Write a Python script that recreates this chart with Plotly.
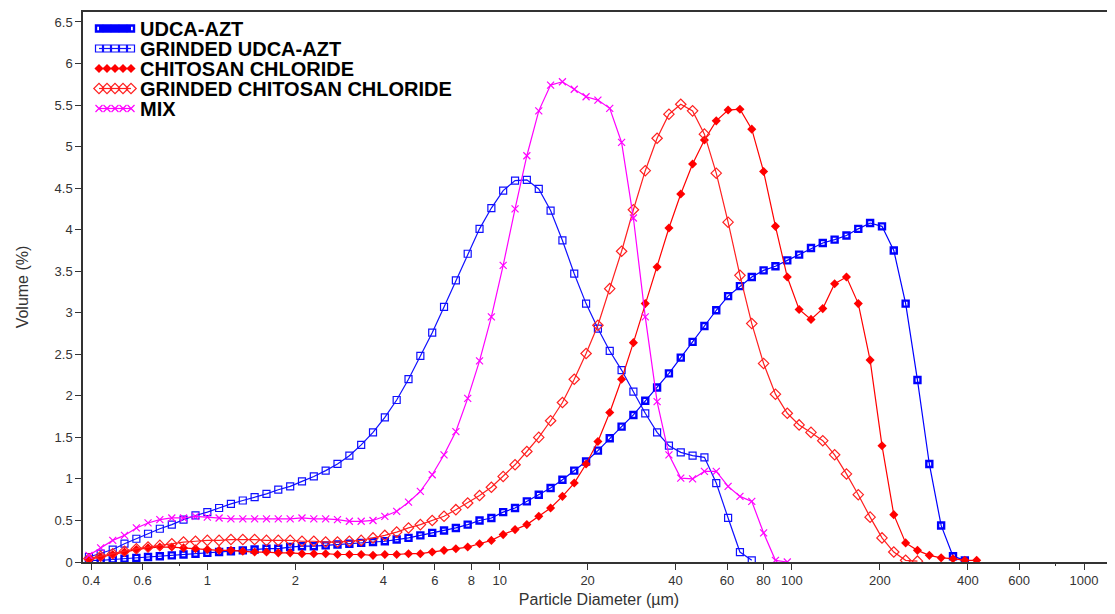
import plotly.graph_objects as go

# Particle diameter (µm) – channel centres
diameter = [0.393, 0.431, 0.474, 0.520, 0.571, 0.626, 0.687, 0.755, 0.828, 0.910,
            0.999, 1.096, 1.203, 1.321, 1.450, 1.592, 1.747, 1.919, 2.106, 2.312,
            2.538, 2.786, 3.059, 3.358, 3.686, 4.046, 4.442, 4.876, 5.353, 5.877,
            6.451, 7.082, 7.774, 8.534, 9.368, 10.28, 11.29, 12.39, 13.61, 14.94,
            16.40, 18.00, 19.76, 21.69, 23.81, 26.14, 28.69, 31.50, 34.58, 37.96,
            41.67, 45.74, 50.21, 55.12, 60.51, 66.43, 72.92, 80.05, 87.88, 96.47,
            105.9, 116.3, 127.6, 140.1, 153.8, 168.8, 185.3, 203.5, 223.3, 245.2,
            269.1, 295.5, 324.3, 356.1, 390.9, 429.1, 471.0]

udca_azt = [0.02, 0.02, 0.03, 0.04, 0.05, 0.06, 0.07, 0.08, 0.09, 0.10,
            0.11, 0.12, 0.13, 0.14, 0.15, 0.16, 0.16, 0.18, 0.19, 0.19,
            0.20, 0.21, 0.22, 0.23, 0.24, 0.25, 0.27, 0.29, 0.32, 0.35,
            0.38, 0.41, 0.45, 0.50, 0.53, 0.60, 0.65, 0.73, 0.81, 0.89,
            0.99, 1.10, 1.21, 1.34, 1.49, 1.63, 1.77, 1.94, 2.10, 2.27,
            2.46, 2.65, 2.84, 3.03, 3.20, 3.32, 3.43, 3.51, 3.56, 3.63,
            3.70, 3.78, 3.84, 3.88, 3.93, 4.01, 4.08, 4.04, 3.75, 3.11,
            2.19, 1.18, 0.44, 0.07, 0.02]

grinded_udca_azt = [0.06, 0.10, 0.15, 0.22, 0.28, 0.34, 0.40, 0.45, 0.51, 0.56,
                    0.60, 0.65, 0.70, 0.74, 0.78, 0.82, 0.87, 0.91, 0.97, 1.03,
                    1.10, 1.18, 1.28, 1.41, 1.56, 1.74, 1.95, 2.20, 2.48, 2.76,
                    3.07, 3.39, 3.71, 4.01, 4.26, 4.47, 4.59, 4.60, 4.49, 4.23,
                    3.87, 3.47, 3.11, 2.81, 2.54, 2.31, 2.05, 1.79, 1.56, 1.40,
                    1.32, 1.28, 1.26, 0.95, 0.53, 0.12, 0.02]

chitosan_chloride = [0.03, 0.06, 0.09, 0.12, 0.15, 0.17, 0.18, 0.18, 0.17, 0.16,
                     0.15, 0.14, 0.14, 0.13, 0.12, 0.12, 0.11, 0.11, 0.10, 0.10,
                     0.10, 0.09, 0.09, 0.09, 0.08, 0.09, 0.09, 0.10, 0.10, 0.12,
                     0.14, 0.16, 0.18, 0.22, 0.26, 0.33, 0.39, 0.45, 0.55, 0.65,
                     0.79, 0.95, 1.18, 1.45, 1.80, 2.20, 2.64, 3.11, 3.55, 4.02,
                     4.43, 4.79, 5.08, 5.31, 5.44, 5.45, 5.21, 4.70, 4.04, 3.43,
                     3.04, 2.92, 3.05, 3.35, 3.43, 3.11, 2.43, 1.40, 0.57, 0.23,
                     0.14, 0.08, 0.05, 0.04, 0.02, 0.02]

grinded_chitosan = [0.04, 0.07, 0.10, 0.13, 0.16, 0.18, 0.20, 0.22, 0.24, 0.25,
                    0.26, 0.26, 0.27, 0.27, 0.27, 0.26, 0.26, 0.26, 0.25, 0.25,
                    0.24, 0.24, 0.25, 0.26, 0.29, 0.32, 0.36, 0.41, 0.45, 0.50,
                    0.55, 0.63, 0.71, 0.80, 0.90, 1.03, 1.17, 1.33, 1.50, 1.70,
                    1.92, 2.20, 2.51, 2.85, 3.29, 3.74, 4.24, 4.71, 5.10, 5.39,
                    5.51, 5.43, 5.15, 4.68, 4.09, 3.45, 2.87, 2.39, 2.02, 1.79,
                    1.65, 1.56, 1.46, 1.29, 1.06, 0.81, 0.54, 0.29, 0.12, 0.02,
                    0.01]

mix = [0.08, 0.17, 0.26, 0.32, 0.41, 0.47, 0.51, 0.53, 0.53, 0.55,
       0.54, 0.53, 0.52, 0.52, 0.52, 0.52, 0.52, 0.52, 0.53, 0.52,
       0.52, 0.51, 0.49, 0.49, 0.50, 0.55, 0.61, 0.72, 0.85, 1.05,
       1.29, 1.57, 1.97, 2.42, 2.95, 3.57, 4.25, 4.89, 5.43, 5.74,
       5.78, 5.69, 5.60, 5.56, 5.46, 5.05, 4.14, 2.95, 1.93, 1.29,
       1.01, 1.00, 1.09, 1.09, 0.91, 0.79, 0.73, 0.35, 0.02, 0.00]

x_tickvals = [0.4, 0.6, 1, 2, 4, 6, 8, 10, 20, 40, 60, 80, 100, 200, 400, 600, 1000]
x_ticktext = ["0.4", "0.6", "1", "2", "4", "6", "8", "10", "20", "40", "60", "80",
              "100", "200", "400", "600", "1000"]
x_minor = [0.8, 800]
y_tickvals = [0, 0.5, 1, 1.5, 2, 2.5, 3, 3.5, 4, 4.5, 5, 5.5, 6, 6.5]
y_ticktext = ["0", "0.5", "1", "1.5", "2", "2.5", "3", "3.5", "4", "4.5", "5", "5.5", "6", "6.5"]

series = [
    ("UDCA-AZT", udca_azt, "#0000FF", dict(symbol="square-open", size=6, line=dict(width=2.4, color="#0000FF"))),
    ("GRINDED UDCA-AZT", grinded_udca_azt, "#1010FF", dict(symbol="square-open", size=7, line=dict(width=1.2, color="#1010FF"))),
    ("CHITOSAN CHLORIDE", chitosan_chloride, "#FF0000", dict(symbol="diamond", size=7, color="#FF0000", line=dict(width=0))),
    ("GRINDED CHITOSAN CHLORIDE", grinded_chitosan, "#FF2020", dict(symbol="diamond-open", size=8, line=dict(width=1.2, color="#FF2020"))),
    ("MIX", mix, "#FF00FF", dict(symbol="x-thin-open", size=7, line=dict(width=1.2, color="#FF00FF"))),
]

FONT = "Liberation Sans, Arial, sans-serif"
fig = go.Figure()

for name, vals, color, marker in series:
    fig.add_trace(go.Scatter(
        x=diameter[:len(vals)], y=vals, mode="lines+markers", name=name,
        line=dict(color=color, width=1.2), marker=marker, showlegend=False,
    ))

# Hand-made legend on an overlay axis measured in pixels of the plot area
leg_x0, leg_dx, leg_y0, leg_dy = 99, 8, 28.5, 20
for k, (name, vals, color, marker) in enumerate(series):
    yk = leg_y0 + leg_dy * k
    lw = 6 if k == 0 else 1.2
    fig.add_trace(go.Scatter(
        x=[leg_x0 + leg_dx * m for m in range(5)], y=[yk] * 5,
        xaxis="x2", yaxis="y2", mode="lines+markers",
        line=dict(color=color, width=lw), marker=marker, showlegend=False,
        hoverinfo="skip",
    ))
    fig.add_annotation(x=138, y=yk, xref="x2", yref="y2", text="<b>%s</b>" % name,
                       showarrow=False, xanchor="left", yanchor="middle",
                       font=dict(family=FONT, size=20, color="black"))

# page body has an 8px margin: figure starts at (8, 8) in the window
fig.update_layout(
    width=1107, height=606,
    margin=dict(l=75, r=0, t=4, b=52),
    paper_bgcolor="white", plot_bgcolor="white",
    font=dict(family=FONT, color="#333333"),
    xaxis=dict(
        type="log", range=[-0.426, 3.106],
        tickmode="array", tickvals=x_tickvals, ticktext=x_ticktext,
        ticks="outside", ticklen=6, tickwidth=1, tickcolor="#333333",
        minor=dict(tickmode="array", tickvals=x_minor, ticks="outside", ticklen=2, tickcolor="#333333"),
        showline=True, linecolor="#333333", linewidth=1.5, mirror=True,
        showgrid=False, zeroline=False,
        tickfont=dict(size=13, color="#333333"),
        title=dict(text="Particle Diameter (µm)", font=dict(size=16, color="#333333"), standoff=6),
    ),
    yaxis=dict(
        range=[0, 6.62],
        tickmode="array", tickvals=y_tickvals, ticktext=y_ticktext,
        ticks="outside", ticklen=6, tickwidth=1, tickcolor="#333333",
        showline=True, linecolor="#333333", linewidth=1.5,
        showgrid=False, zeroline=False,
        tickfont=dict(size=13, color="#333333"),
        title=dict(text="Volume (%)", font=dict(size=16, color="#333333"), standoff=22),
    ),
    xaxis2=dict(overlaying="x", range=[83, 1115], visible=False, fixedrange=True),
    yaxis2=dict(overlaying="y", range=[562, 12], visible=False, fixedrange=True),
)

fig.write_html("out.html")
